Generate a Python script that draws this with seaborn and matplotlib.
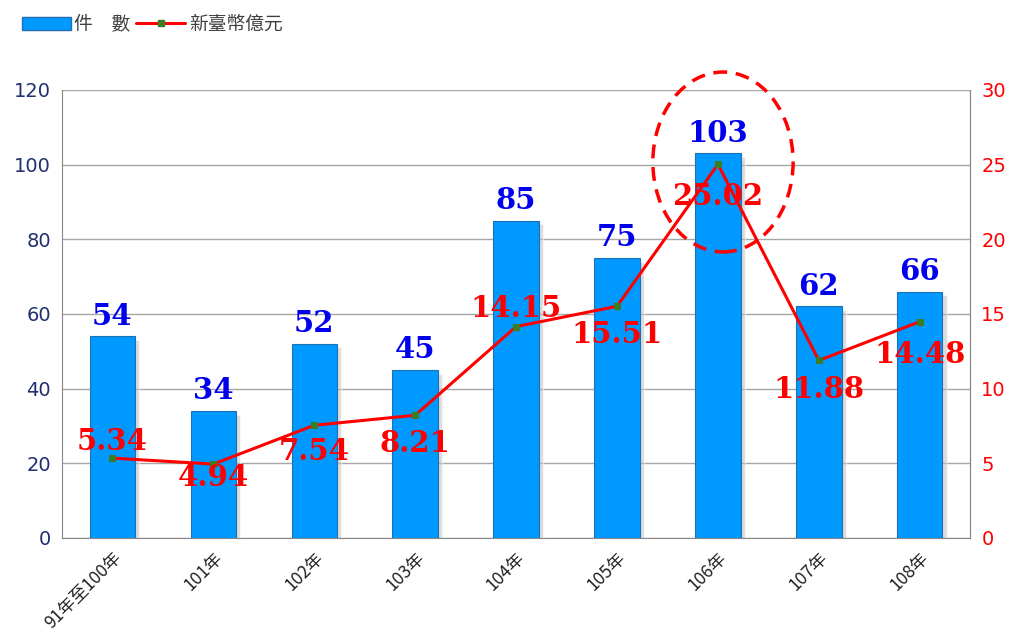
import numpy as np
import pandas as pd
import seaborn as sns
import matplotlib
matplotlib.use('Agg')
import matplotlib.pyplot as plt
from matplotlib.patches import Ellipse
from matplotlib.lines import Line2D
from matplotlib.patches import Patch

years = ['91年至100年', '101年', '102年', '103年', '104年', '105年', '106年', '107年', '108年']
counts = [54, 34, 52, 45, 85, 75, 103, 62, 66]
amounts = [5.34, 4.94, 7.54, 8.21, 14.15, 15.51, 25.02, 11.88, 14.48]
# label offsets (points) for the amount labels
amt_offsets = [12, -10, -19, -20, 13, -20, -23, -21, -24]

df = pd.DataFrame({'year': years, 'count': counts, 'amount': amounts})

sns.set_style('white')
plt.rcParams['font.family'] = ['Noto Sans CJK TC', 'DejaVu Sans']

fig = plt.figure(figsize=(10.24, 6.38), dpi=100)
ax = fig.add_axes([0.0605, 0.157, 0.887, 0.702])

bar_color = '#0099FF'
sns.barplot(data=df, x='year', y='count', color=bar_color, width=0.45,
            edgecolor='#1F6FB5', linewidth=0.8, saturation=1, ax=ax, zorder=3)

# soft shadow behind bars
for i, c in enumerate(counts):
    ax.bar(i + 0.04, c, width=0.45, bottom=-1.0, color='#BBBBBB', alpha=0.5, zorder=2)

ax.set_ylim(0, 120)
ax.set_xlim(-0.5, len(years) - 0.5)
ax.set_yticks(range(0, 121, 20))
ax.yaxis.grid(True, color='#A6A6A6', linewidth=1.0, zorder=0)
ax.set_axisbelow(True)
ax.set_xlabel('')
ax.set_ylabel('')
ax.tick_params(axis='y', colors='#1F2F6F', labelsize=14, length=0, pad=8)
for t in ax.get_yticklabels():
    t.set_family('DejaVu Sans')
ax.set_xticks(range(len(years)))
ax.set_xticklabels(years, rotation=45, ha='right', rotation_mode='anchor',
                   fontsize=12.5, color='#222222')
ax.tick_params(axis='x', length=0, pad=8)
ax.set_xticks(np.arange(-0.5, len(years), 1), minor=True)
ax.tick_params(axis='x', which='minor', length=5, color='#888888')
ax.spines['top'].set_visible(False)
for s in ['left', 'bottom', 'right']:
    ax.spines[s].set_color('#888888')

for i, c in enumerate(counts):
    ax.annotate(str(c), (i, c), xytext=(0, 4), textcoords='offset points',
                ha='center', va='bottom', color='#0000EE', fontsize=21,
                fontweight='bold', family='DejaVu Serif', zorder=6)

ax2 = ax.twinx()
sns.lineplot(x=np.arange(len(years)), y=amounts, color='#FF0000', linewidth=2.2,
             marker='s', markersize=5, markerfacecolor='#3A7D22',
             markeredgecolor='#3A7D22', ax=ax2, zorder=5)
ax2.set_ylim(0, 30)
ax2.set_yticks(range(0, 31, 5))
ax2.tick_params(axis='y', colors='#FF0000', labelsize=14, length=0, pad=8)
for t in ax2.get_yticklabels():
    t.set_family('DejaVu Sans')
ax2.spines['right'].set_color('#888888')
ax2.spines['top'].set_visible(False)
ax2.spines['left'].set_visible(False)
ax2.spines['bottom'].set_visible(False)
ax2.grid(False)

for i, a in enumerate(amounts):
    ax2.annotate(f'{a:.2f}', (i, a), xytext=(0, amt_offsets[i]), textcoords='offset points',
                 ha='center', va='center', color='#FF0000', fontsize=21,
                 fontweight='bold', family='DejaVu Serif', zorder=7)

ell = Ellipse((6.05, 100.7), 1.39, 48.2, fill=False, edgecolor='#FF0000',
              linestyle=(0, (4, 2.5)), linewidth=2.5, zorder=8, clip_on=False)
ax.add_patch(ell)

handles = [Patch(facecolor=bar_color, edgecolor='#1F6FB5'),
           Line2D([0], [0], color='#FF0000', linewidth=2.2, marker='s',
                  markersize=5, markerfacecolor='#3A7D22', markeredgecolor='#3A7D22')]
fig.legend(handles, ['件\u3000數', '新臺幣億元'], loc='upper left',
           bbox_to_anchor=(0.005, 1.005), ncol=2, frameon=False, fontsize=13.5,
           handlelength=2.6, handletextpad=0.2, columnspacing=0.3,
           labelcolor='#404040')

fig.savefig('out.png', dpi=100)
